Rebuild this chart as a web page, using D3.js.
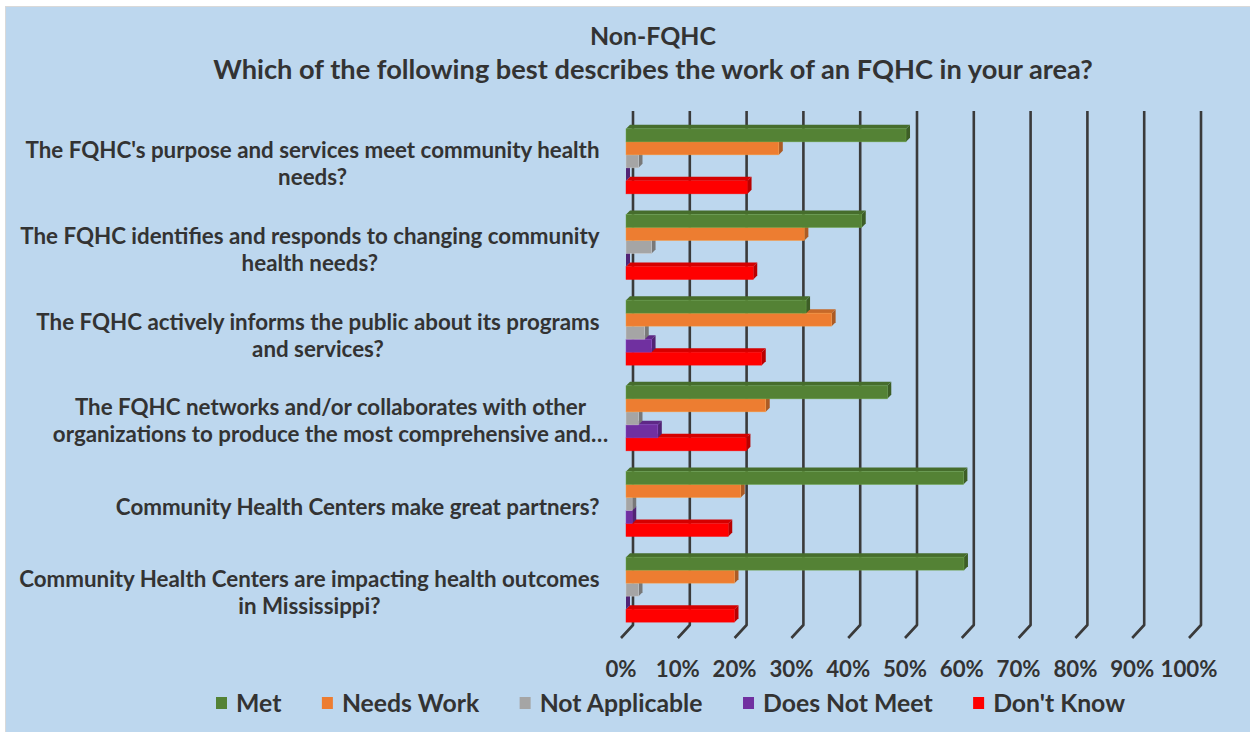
<!DOCTYPE html>
<html>
<head>
<meta charset="utf-8">
<script src="https://cdn.jsdelivr.net/npm/d3@7"></script>
<style>
  html, body { margin: 0; padding: 0; background: #ffffff; }
  svg { display: block; }
  text { font-family: Lato, "Open Sans", sans-serif; font-weight: bold; fill: #333333; }
</style>
</head>
<body>
<svg id="chart" width="1250" height="732"></svg>
<script>
// ---------------- DATA ----------------
const titleLines = ["Non-FQHC", "Which of the following best describes the work of an FQHC in your area?"];
const categories = [
  ["The FQHC's purpose and services meet community health", "needs?"],
  ["The FQHC identifies and responds to changing community", "health needs?"],
  ["The FQHC actively informs the public about its programs", "and services?"],
  ["The FQHC networks and/or collaborates with other", "organizations to produce the most comprehensive and\u2026"],
  ["Community Health Centers make great partners?"],
  ["Community Health Centers are impacting health outcomes", "in Mississippi?"]
];
const seriesNames = ["Met", "Needs Work", "Not Applicable", "Does Not Meet", "Don't Know"];
const met           = [49.3, 41.5, 31.7, 46.0, 59.4, 59.5];
const needsWork     = [26.9, 31.4, 36.2, 24.6, 20.2, 19.1];
const notApplicable = [2.2, 4.5, 3.3, 2.2, 1.1, 2.2];
const doesNotMeet   = [0, 0, 4.5, 5.6, 1.1, 0];
const dontKnow      = [21.4, 22.4, 23.9, 21.2, 18.0, 19.1];
const tickValues = [0, 10, 20, 30, 40, 50, 60, 70, 80, 90, 100];
const tickLabels = ["0%", "10%", "20%", "30%", "40%", "50%", "60%", "70%", "80%", "90%", "100%"];
const seriesColors = ["#548235", "#ED7D31", "#A5A5A5", "#7030A0", "#FF0000"];

const seriesValues = [met, needsWork, notApplicable, doesNotMeet, dontKnow];

// ---------------- LAYOUT ----------------
const svg = d3.select("#chart");
const W = 1250, H = 732;

svg.append("rect").attr("x", 0).attr("y", 0).attr("width", W).attr("height", H).attr("fill", "#ffffff");
svg.append("rect").attr("x", 5.5).attr("y", 6.5).attr("width", W).attr("height", H)
  .attr("fill", "#BDD7EE").attr("stroke", "#d9d9d9").attr("stroke-width", 1);

// helper: font size so a reference string has a target width
const measurer = svg.append("text").attr("x", -1000).attr("y", -1000).style("font-size", "20px");
function fitSize(str, target) {
  measurer.style("font-size", "20px").text(str);
  const w = measurer.node().getComputedTextLength();
  return 20 * target / w;
}
function textWidth(str, size) {
  measurer.style("font-size", size + "px").text(str);
  return measurer.node().getComputedTextLength();
}

const titleSize1 = fitSize(titleLines[0], 126);
const titleSize2 = fitSize(titleLines[1], 880);
const catSize = fitSize("Community Health Centers make great partners?", 484);
const tickSize = fitSize("100%", 57);
const legendSize = fitSize("Not Applicable", 163);

// 3D geometry: back wall scale, floor depth, bar plane
const xBack = d3.scaleLinear().domain([0, 100]).range([633, 1201]);
const yBack = d3.scaleBand().domain(d3.range(categories.length)).range([111, 625]);
const floorDX = -12, floorDY = 13;        // back -> front of floor
const barDX = -7, barDY = 7.5;            // back wall -> bar front face
const depthDX = 4, depthDY = -4;          // bar front -> bar back
const groupPad = (yBack.bandwidth() - 65) / 2;
const ySeries = d3.scaleBand().domain(seriesNames).range([groupPad, yBack.bandwidth() - groupPad]);

// ---------------- TITLE ----------------
svg.append("text").attr("x", 653).attr("y", 45).attr("text-anchor", "middle")
  .style("font-size", titleSize1 + "px").text(titleLines[0]);
svg.append("text").attr("x", 653).attr("y", 79).attr("text-anchor", "middle")
  .style("font-size", titleSize2 + "px").text(titleLines[1]);

// ---------------- GRIDLINES ----------------
const yTop = yBack.range()[0], yBot = yBack.range()[1];
svg.append("g").selectAll("path").data(tickValues).join("path")
  .attr("d", v => `M${xBack(v)},${yTop} L${xBack(v)},${yBot} L${xBack(v) + floorDX},${yBot + floorDY}`)
  .attr("fill", "none").attr("stroke", "#3a3a3a").attr("stroke-width", 2.6)
  .attr("stroke-linejoin", "round");

// ---------------- TICK LABELS ----------------
svg.append("g").selectAll("text").data(tickValues).join("text")
  .attr("x", v => xBack(v) + floorDX)
  .attr("y", 677)
  .attr("text-anchor", "middle")
  .style("font-size", tickSize + "px")
  .text((v, i) => tickLabels[i]);

// ---------------- BARS ----------------
const barsG = svg.append("g");
categories.forEach((cat, ci) => {
  for (let si = seriesNames.length - 1; si >= 0; si--) {
    const v = seriesValues[si][ci];
    const col = d3.color(seriesColors[si]);
    const x1 = xBack(0) + barDX, x2 = xBack(v) + barDX;
    const y = yBack(ci) + barDY + ySeries(seriesNames[si]);
    const h = ySeries.bandwidth();
    const g = barsG.append("g");
    // side face
    g.append("path")
      .attr("d", `M${x2},${y} L${x2 + depthDX},${y + depthDY} L${x2 + depthDX},${y + h + depthDY} L${x2},${y + h} Z`)
      .attr("fill", col.darker(0.9).formatHex());
    // top face
    g.append("path")
      .attr("d", `M${x1},${y} L${x1 + depthDX},${y + depthDY} L${x2 + depthDX},${y + depthDY} L${x2},${y} Z`)
      .attr("fill", col.darker(0.5).formatHex());
    // front face
    g.append("rect")
      .attr("x", x1).attr("y", y).attr("width", Math.max(0, x2 - x1)).attr("height", h)
      .attr("fill", col.formatHex())
      .attr("stroke", col.brighter(0.7).formatHex()).attr("stroke-width", 0.6).attr("stroke-opacity", 0.7);
  }
});

// ---------------- CATEGORY LABELS ----------------
const labelRight = 599.5, lineGap = 27;
const ellipsisW = textWidth("\u2026", catSize);
categories.forEach((lines, ci) => {
  const widths = lines.map(l => textWidth(l, catSize) - (l.endsWith("\u2026") ? ellipsisW : 0));
  const blockW = d3.max(widths);
  const cx = labelRight - blockW / 2;
  const cy = yBack(ci) + barDY + yBack.bandwidth() / 2 + 3;
  const t = svg.append("text").attr("text-anchor", "middle").style("font-size", catSize + "px");
  lines.forEach((l, li) => {
    t.append("tspan").attr("x", cx)
      .attr("y", cy + (li - (lines.length - 1) / 2) * lineGap + 7.5)
      .text(l);
  });
});

// ---------------- LEGEND ----------------
const legend = svg.append("g");
let lx = 216;
seriesNames.forEach((name, i) => {
  legend.append("rect").attr("x", lx).attr("y", 697).attr("width", 11).attr("height", 12)
    .attr("fill", seriesColors[i]);
  legend.append("text").attr("x", lx + 20).attr("y", 712)
    .style("font-size", legendSize + "px").text(name);
  lx += 20 + textWidth(name, legendSize) + 40.5;
});
measurer.remove();
</script>
</body>
</html>
